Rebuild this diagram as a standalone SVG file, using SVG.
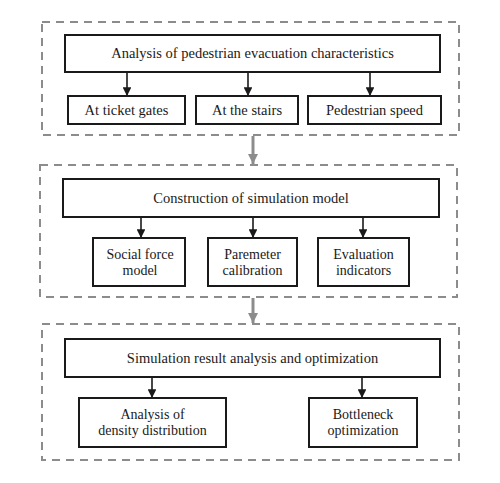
<svg xmlns="http://www.w3.org/2000/svg" width="500" height="483" viewBox="0 0 500 483">
<style>
.grp{fill:none;stroke:#8c8c8c;stroke-width:2;stroke-dasharray:8,6}
.box{fill:#fff;stroke:#1a1a1a;stroke-width:2}
.t{font-family:'Liberation Serif','Times New Roman','DejaVu Serif',serif;font-size:14.5px;fill:#1a1a1a;text-anchor:middle}
.s{font-size:14px}
.c{stroke:#1a1a1a;stroke-width:1.6;fill:none}
.g{stroke:#8c8c8c;stroke-width:3;fill:none}
</style>
<defs>
<marker id="ah" viewBox="0 0 10 10" refX="10" refY="5" markerWidth="5.5" markerHeight="5.5" orient="auto" markerUnits="strokeWidth"><path d="M0,0 L10,5 L0,10 z" fill="#1a1a1a"/></marker>
<marker id="gh" viewBox="0 0 10 10" refX="10" refY="5" markerWidth="3.5" markerHeight="3.5" orient="auto" markerUnits="strokeWidth"><path d="M0,0 L10,5 L0,10 z" fill="#8c8c8c"/></marker>
</defs>
<rect class="grp" x="42" y="22" width="417" height="113"/>
<rect class="grp" x="40" y="165" width="417" height="132"/>
<rect class="grp" x="42" y="324" width="417" height="136"/>
<g id="connectors">
<line class="c" x1="127" y1="72" x2="127" y2="96" marker-end="url(#ah)"/>
<line class="c" x1="248" y1="72" x2="248" y2="96" marker-end="url(#ah)"/>
<line class="c" x1="370" y1="72" x2="370" y2="96" marker-end="url(#ah)"/>
<line class="g" x1="253" y1="136" x2="253" y2="164" marker-end="url(#gh)"/>
<line class="c" x1="141" y1="217" x2="141" y2="238" marker-end="url(#ah)"/>
<line class="c" x1="253" y1="217" x2="253" y2="238" marker-end="url(#ah)"/>
<line class="c" x1="363" y1="217" x2="363" y2="238" marker-end="url(#ah)"/>
<line class="g" x1="253" y1="298" x2="253" y2="323" marker-end="url(#gh)"/>
<line class="c" x1="152" y1="377" x2="152" y2="398" marker-end="url(#ah)"/>
<line class="c" x1="362" y1="377" x2="362" y2="398" marker-end="url(#ah)"/>
</g>
<g id="n1"><rect class="box" x="65" y="35" width="375" height="37"/><text class="t" x="252.5" y="58">Analysis of pedestrian evacuation characteristics</text></g>
<g id="n1a"><rect class="box" x="68" y="96" width="117" height="28"/><text class="t" x="126.5" y="115">At ticket gates</text></g>
<g id="n1b"><rect class="box" x="196" y="96" width="102" height="28"/><text class="t" x="247" y="115">At the stairs</text></g>
<g id="n1c"><rect class="box" x="308" y="96" width="133" height="28"/><text class="t" x="374.5" y="115">Pedestrian speed</text></g>
<g id="n2"><rect class="box" x="63" y="179" width="376" height="38"/><text class="t" x="251" y="203">Construction of simulation model</text></g>
<g id="n2a"><rect class="box" x="93" y="238" width="92" height="48"/><text class="t s" x="140" y="259">Social force</text><text class="t s" x="140" y="275">model</text></g>
<g id="n2b"><rect class="box" x="208" y="238" width="89" height="48"/><text class="t s" x="252.5" y="259">Paremeter</text><text class="t s" x="252.5" y="275">calibration</text></g>
<g id="n2c"><rect class="box" x="318" y="238" width="91" height="48"/><text class="t s" x="363.5" y="259">Evaluation</text><text class="t s" x="363.5" y="275">indicators</text></g>
<g id="n3"><rect class="box" x="65" y="339" width="375" height="38"/><text class="t" x="252.5" y="363">Simulation result analysis and optimization</text></g>
<g id="n3a"><rect class="box" x="79" y="398" width="147" height="49"/><text class="t s" x="152.5" y="419">Analysis of</text><text class="t s" x="152.5" y="435">density distribution</text></g>
<g id="n3b"><rect class="box" x="309" y="398" width="108" height="49"/><text class="t s" x="363" y="419">Bottleneck</text><text class="t s" x="363" y="435">optimization</text></g>
</svg>
